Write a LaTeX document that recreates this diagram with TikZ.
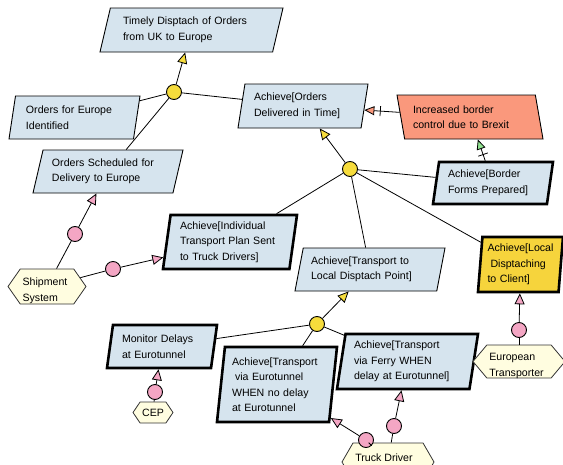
\documentclass[tikz,border=0pt]{standalone}
\usepackage{fontspec}
\setmainfont{Liberation Sans}
\usetikzlibrary{shapes.geometric,shapes.symbols,arrows.meta,decorations.markings}
\definecolor{goalc}{RGB}{214,228,238}
\definecolor{obstc}{RGB}{250,152,124}
\definecolor{goldc}{RGB}{246,212,60}
\definecolor{andc}{RGB}{246,220,60}
\definecolor{pinkc}{RGB}{244,166,196}
\definecolor{agentc}{RGB}{255,253,224}
\definecolor{greenc}{RGB}{144,226,144}
\newcommand\dfont{\fontsize{10.6}{15.5}\selectfont}
\begin{document}
\begin{tikzpicture}[x=1pt,y=-1pt,
  goalbox/.style={trapezium, trapezium stretches body, draw=black, fill=goalc,
    line width=0.9pt, inner sep=0pt, align=left, font=\dfont},
  goalthick/.style={goalbox, line width=2.6pt},
  andnode/.style={circle, draw=black, fill=andc, minimum size=15pt, inner sep=0pt, line width=0.9pt},
  respnode/.style={circle, draw=black, fill=pinkc, minimum size=15pt, inner sep=0pt, line width=0.9pt},
  agentnode/.style={signal, signal to=west and east, draw=black!80, fill=agentc,
    line width=0.8pt, inner sep=0pt},
  agenttext/.style={font=\dfont, align=left, inner sep=0pt},
  link/.style={draw=black, line width=0.8pt},
  andarrow/.style={link, -{Triangle[length=11pt,width=10pt,fill=andc]}},
  resparrow/.style={link, -{Triangle[length=11pt,width=10pt,fill=pinkc]}},
  obsarrow/.style={link, -{Triangle[length=10pt,width=9pt,fill=#1]},
    postaction={decorate, decoration={markings,
      mark=at position -16pt with {\draw[-, line width=0.8pt] (0pt,-5pt) -- (0pt,5pt);}}}}
]
\useasboundingbox (0,0) rectangle (563,464);

% goals
\node[goalbox, trapezium left angle=67.75, trapezium right angle=112.25,
  minimum width=183pt, minimum height=44pt, text width=137pt] (g1) at (191.5,30)
  {Timely Disptach of Orders\\from UK to Europe};
\node[goalbox, trapezium left angle=74.4, trapezium right angle=105.6,
  minimum width=131pt, minimum height=43pt, text width=97pt] (g2) at (74.5,117.5)
  {Orders for Europe\\Identified};
\node[goalbox, trapezium left angle=68.4, trapezium right angle=111.6,
  minimum width=150pt, minimum height=43pt, text width=112pt] (g3) at (108,171.5)
  {Orders Scheduled for\\Delivery to Europe};
\node[goalbox, trapezium left angle=74.7, trapezium right angle=105.3,
  minimum width=130pt, minimum height=44pt, text width=98pt] (g4) at (303,106)
  {Achieve[Orders\\Delivered in Time]};
\node[goalbox, fill=obstc, trapezium left angle=108.2, trapezium right angle=71.8,
  minimum width=146pt, minimum height=44pt, text width=114pt] (ob) at (470,117)
  {Increased border\\control due to Brexit};
\node[goalthick, trapezium left angle=76.6, trapezium right angle=103.4,
  minimum width=120pt, minimum height=42pt, text width=90pt] (g6) at (493,183)
  {Achieve[Border\\Forms Prepared]};
\node[goalthick, trapezium left angle=79.5, trapezium right angle=100.5,
  minimum width=134pt, minimum height=54pt, text width=100pt] (g7) at (230,242)
  {Achieve[Individual\\Transport Plan Sent\\to Truck Drivers]};
\node[goalbox, trapezium left angle=72, trapezium right angle=108,
  minimum width=150pt, minimum height=43pt, text width=118pt] (g8) at (370,269.5)
  {Achieve[Transport to\\Local Disptach Point]};
\node[goalthick, fill=goldc, trapezium left angle=83.8, trapezium right angle=96.2,
  minimum width=85pt, minimum height=55pt, text width=66pt] (g9) at (520.5,264.5)
  {Achieve[Local\\\hspace*{3pt}Disptaching\\to Client]};
\node[goalthick, trapezium left angle=75.6, trapezium right angle=104.4,
  minimum width=110pt, minimum height=43pt, text width=80pt] (g10) at (162,346.5)
  {Monitor Delays\\at Eurotunnel};
\node[goalthick, trapezium left angle=81.7, trapezium right angle=98.3,
  minimum width=120pt, minimum height=75pt, text width=90pt] (g11) at (277,384.5)
  {Achieve[Transport\\\hspace*{3pt}via Eurotunnel\\WHEN no delay\\at Eurotunnel};
\node[goalthick, trapezium left angle=78.2, trapezium right angle=101.8,
  minimum width=141pt, minimum height=55pt, text width=107pt] (g12) at (407.5,361.5)
  {Achieve[Transport\\via Ferry WHEN\\delay at Eurotunnel]};

% agents
\node[agentnode, signal pointer angle=110, minimum width=78pt, minimum height=35pt] (s1) at (47,286.5) {};
\node[agenttext] (s1t) at (45,291) {Shipment\\System};
\node[agentnode, signal pointer angle=100, minimum width=92pt, minimum height=33pt] (eu) at (519,361.5) {};
\node[agenttext] (eut) at (516.5,366) {European\\Transporter};
\node[agentnode, signal pointer angle=112, minimum width=40pt, minimum height=21pt] (cep) at (153,412.5) {};
\node[agenttext] (cept) at (153,412.5) {CEP};
\node[agentnode, signal pointer angle=120, minimum width=92pt, minimum height=38pt] (td) at (388,462) {};
\node[agenttext] (tdt) at (384,458) {Truck Driver};

% refinement nodes
\node[andnode] (c1) at (174,92) {};
\node[andnode] (c2) at (350,169) {};
\node[andnode] (c3) at (317,324) {};

% responsibility nodes
\node[respnode] (p1) at (75,234) {};
\node[respnode] (p2) at (113,269) {};
\node[respnode] (p3) at (519,330) {};
\node[respnode] (p4) at (155,392) {};
\node[respnode] (p5) at (366,440) {};
\node[respnode] (p6) at (394,426) {};

% refinement links
\draw[andarrow] (c1) -- (g1);
\draw[link] (g2) -- (c1);
\draw[link] (g3) -- (c1);
\draw[link] (g4) -- (c1);
\draw[andarrow] (c2) -- (g4);
\draw[link] (g6) -- (c2);
\draw[link] (g7) -- (c2);
\draw[link] (g8) -- (c2);
\draw[link] (g9) -- (c2);
\draw[andarrow] (c3) -- (g8);
\draw[link] (g10) -- (c3);
\draw[link] (g11) -- (c3);
\draw[link] (g12) -- (c3);

% obstruction / resolution
\draw[obsarrow=obstc] (ob) -- (g4);
\draw[obsarrow=greenc] (g6) -- (ob);

% responsibility links
\draw[link] (s1) -- (p1);
\draw[resparrow] (p1) -- (g3);
\draw[link] (s1) -- (p2);
\draw[resparrow] (p2) -- (g7);
\draw[link] (eu) -- (p3);
\draw[resparrow] (p3) -- (g9);
\draw[link] (cep) -- (p4);
\draw[resparrow] (p4) -- (g10);
\draw[link] (td) -- (p5);
\draw[resparrow] (p5) -- (g11);
\draw[link] (td) -- (p6);
\draw[resparrow] (p6) -- (g12);
\end{tikzpicture}
\end{document}
